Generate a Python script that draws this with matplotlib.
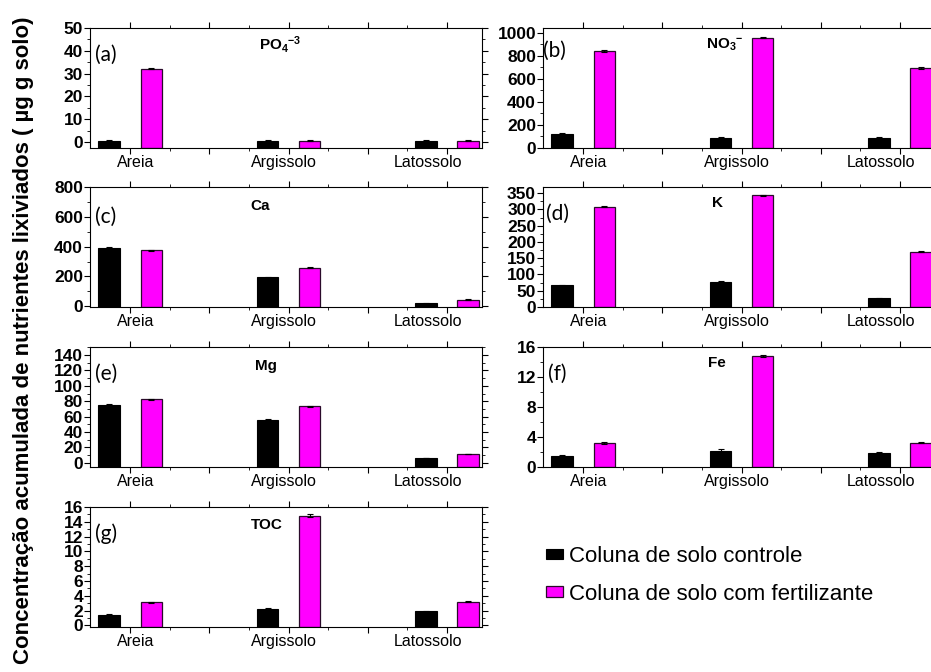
import numpy as np
import matplotlib
matplotlib.use("Agg")
import matplotlib.pyplot as plt
from matplotlib.patches import Patch
from matplotlib.ticker import MultipleLocator, FixedLocator

plt.rcParams['font.family'] = ['Liberation Sans', 'DejaVu Sans']
plt.rcParams['font.weight'] = 'bold'          # graduations en gras (style Origin)
plt.rcParams['mathtext.fontset'] = 'custom'
plt.rcParams['mathtext.rm'] = 'Liberation Sans'
plt.rcParams['mathtext.bf'] = 'Liberation Sans:bold'

# =============================
# Données
# =============================
solos = ["Areia", "Argissolo", "Latossolo"]
serie_labels = ["Coluna de solo controle", "Coluna de solo com fertilizante"]

po4_ctrl = [0.5, 0.5, 0.5]
po4_fert = [32.2, 0.5, 0.5]
no3_ctrl = [124, 89, 84]
no3_fert = [841, 957, 694]
ca_ctrl = [393, 193, 20]
ca_fert = [377, 257, 44]
k_ctrl = [67, 78, 27]
k_fert = [308, 343, 170]
mg_ctrl = [75.4, 55.5, 6.1]
mg_fert = [82.4, 73.3, 11.3]
fe_ctrl = [1.47, 2.2, 1.92]
fe_fert = [3.2, 14.8, 3.26]
toc_ctrl = [1.4, 2.15, 1.88]
toc_fert = [3.1, 14.85, 3.2]

po4_err = [0.3, 0.2, 0.2]
no3_err = [8, 6, 8]
ca_err = [3, 3, 2]
k_err = [2, 2, 2]
mg_err = [0.5, 0.8, 0.3]
fe_err = [0.08, 0.15, 0.08]
toc_err = [0.08, 0.15, 0.08]

# =============================
# Mise en page
# =============================
W, H = 931, 672
fig = plt.figure(figsize=(W / 100, H / 100), dpi=100)

def box(left, top, width=392, height=120):
    return [left / W, 1 - (top + height) / H, width / W, height / H]

panels = [
    # (pos, titre, lettre, ctrl, fert, err, ylim, major, minor, title_xy, letter_xy)
    (box(90, 28), r"$\mathbf{PO_4{}^{-3}}$", "(a)", po4_ctrl, po4_fert, po4_err,
     (-2.6, 50), 10, 5, (0.43, 0.86), (0.012, 0.78)),
    (box(543, 28), r"$\mathbf{NO_3{}^{-}}$", "(b)", no3_ctrl, no3_fert, no3_err,
     (0, 1040), 200, 100, (0.416, 0.86), (0.0, 0.81)),
    (box(90, 187), "Ca", "(c)", ca_ctrl, ca_fert, ca_err,
     (-5, 800), 200, 100, (0.41, 0.84), (0.012, 0.75)),
    (box(543, 187), "K", "(d)", k_ctrl, k_fert, k_err,
     (0, 369), 50, 25, (0.43, 0.87), (0.008, 0.78)),
    (box(90, 347), "Mg", "(e)", mg_ctrl, mg_fert, mg_err,
     (-5.5, 150.5), 20, 10, (0.42, 0.84), (0.012, 0.78)),
    (box(543, 347), "Fe", "(f)", fe_ctrl, fe_fert, fe_err,
     (0, 16), 4, 2, (0.42, 0.87), (0.012, 0.78)),
    (box(90, 507), "TOC", "(g)", toc_ctrl, toc_fert, toc_err,
     (-0.23, 16), 2, 1, (0.41, 0.85), (0.012, 0.78)),
]

x = np.arange(len(solos))
bw = 0.136
off = 0.133
label_shift = [0.032, -0.032, -0.12]   # décalage des noms de sol (unités de x)

for pos, titre, lettre, ctrl, fert, err, ylim, major, minor, txy, lxy in panels:
    ax = fig.add_axes(pos)
    base = ylim[0]
    ax.bar(x - off, np.array(ctrl) - base, bw, bottom=base, color="black",
           edgecolor="black", linewidth=0.8, zorder=2)
    ax.bar(x + off, np.array(fert) - base, bw, bottom=base, color="#ff00ff",
           edgecolor="#2a0a2a", linewidth=0.9, zorder=2)
    ax.errorbar(x - off, ctrl, yerr=err, fmt="none", ecolor="black",
                elinewidth=0.8, capsize=2, capthick=0.8, zorder=3)
    ax.errorbar(x + off, fert, yerr=err, fmt="none", ecolor="black",
                elinewidth=0.8, capsize=2, capthick=0.8, zorder=3)

    ax.set_xlim(-0.254, 2.221)
    ax.set_ylim(*ylim)
    ax.yaxis.set_major_locator(MultipleLocator(major))
    ax.yaxis.set_minor_locator(MultipleLocator(minor))
    ax.xaxis.set_major_locator(FixedLocator([0, 0.5, 1, 1.5, 2]))
    ax.xaxis.set_minor_locator(FixedLocator([0.25, 0.75, 1.25, 1.75]))
    ax.set_xticklabels([])
    for xi, nom, dx in zip(x, solos, label_shift):
        ax.text(xi + dx, -0.06, nom, transform=ax.get_xaxis_transform(),
                fontsize=11.5, fontweight="normal", ha="center", va="top")

    ax.tick_params(axis="y", which="major", direction="out", length=4, width=0.8,
                   pad=1, labelsize=12.5)
    ax.tick_params(axis="y", which="minor", direction="out", length=2, width=0.6)
    ax.tick_params(axis="x", which="major", direction="out", length=4, width=0.8, pad=2)
    ax.tick_params(axis="x", which="minor", direction="out", length=2, width=0.6)
    ax.tick_params(which="both", top=True, right=True)
    for s in ax.spines.values():
        s.set_linewidth(0.8)

    ax.text(txy[0], txy[1], titre, transform=ax.transAxes, fontsize=11,
            fontweight="bold", ha="left", va="center")
    ax.text(lxy[0], lxy[1], lettre, transform=ax.transAxes, fontsize=15,
            fontweight="normal", family=["Lato", "DejaVu Sans"], ha="left", va="center")

fig.text(0.025, 0.494, "Concentração acumulada de nutrientes lixiviados ( µg g solo)",
         rotation=90, fontsize=16, fontweight="bold", ha="center", va="center")

handles = [Patch(facecolor="black", edgecolor="black", linewidth=0.8),
           Patch(facecolor="#ff00ff", edgecolor="#2a0a2a", linewidth=0.9)]
fig.legend(handles, serie_labels, loc="upper left", bbox_to_anchor=(537 / W, 1 - 537 / H),
           frameon=False, prop={"size": 16, "weight": "normal"}, handlelength=0.75,
           handleheight=0.35, handletextpad=0.3, labelspacing=0.75, borderaxespad=0)

fig.savefig("out.png", dpi=100)
